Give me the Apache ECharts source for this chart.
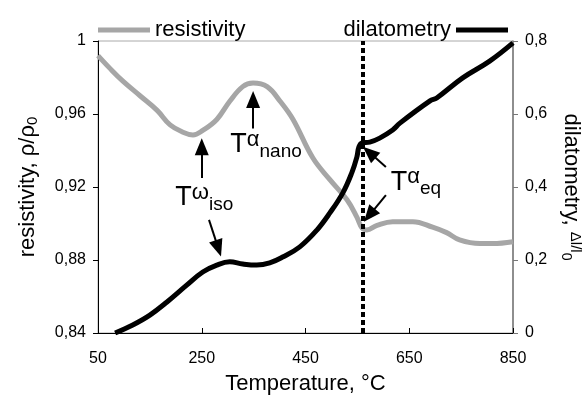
<!DOCTYPE html>
<html>
<head>
<meta charset="utf-8">
<script src="https://cdn.jsdelivr.net/npm/echarts@6/dist/echarts.min.js"></script>
<style>
  html, body { margin: 0; padding: 0; background: #fff; }
  #chart { width: 588px; height: 400px; }
</style>
</head>
<body>
<div id="chart"></div>
<script>
// resistivity (left axis)
const resT = [50, 73, 98, 131, 164, 189, 214, 233, 252, 279, 304, 329, 349, 376, 401, 426, 464, 497, 530, 549, 559, 568, 588, 618, 657, 695, 722, 747, 786, 811, 850]
const resV = [0.992, 0.985, 0.978, 0.970, 0.962, 0.954, 0.950, 0.9485, 0.951, 0.957, 0.967, 0.975, 0.977, 0.975, 0.967, 0.957, 0.936, 0.924, 0.913, 0.9035, 0.8975, 0.8965, 0.899, 0.901, 0.901, 0.898, 0.895, 0.891, 0.889, 0.889, 0.890]
// dilatometry (right axis)
const dilT = [83, 117, 150, 183, 221, 252, 279, 304, 329, 356, 381, 406, 439, 472, 497, 522, 539, 549, 553, 559, 574, 593, 618, 632, 690, 703, 753, 805, 850]
const dilV = [0, 0.022, 0.049, 0.085, 0.131, 0.167, 0.186, 0.195, 0.189, 0.186, 0.192, 0.208, 0.236, 0.282, 0.329, 0.384, 0.438, 0.482, 0.510, 0.521, 0.523, 0.534, 0.556, 0.575, 0.636, 0.644, 0.699, 0.745, 0.795]
// tick labels
const xTicks = [50, 250, 450, 650, 850]
const tEq = 560

const font = 'Arial, "Liberation Sans", sans-serif'
const comma = v => String(Math.round(v * 100) / 100).replace('.', ',')

// rich text styles for the T labels
const tRich = {
  t: { fontSize: 27, fontFamily: font, color: '#000', verticalAlign: 'middle', lineHeight: 32 },
  sup: { fontSize: 22, fontFamily: font, color: '#000', verticalAlign: 'top', lineHeight: 20 },
  sub: { fontSize: 19, fontFamily: font, color: '#000', verticalAlign: 'bottom', lineHeight: 17 }
}
function tLabel(coord, sup, sub) {
  return {
    coord: coord,
    symbol: 'circle',
    symbolSize: 1,
    itemStyle: { color: 'rgba(0,0,0,0)' },
    label: {
      show: true,
      position: 'inside',
      formatter: '{t|T}{sup|' + sup + '}{sub|' + sub + '}',
      rich: tRich
    }
  }
}
function arrow(from, to) {
  return [{ coord: from, symbol: 'none' }, { coord: to, symbol: 'triangle', symbolSize: [14, 17] }]
}

let chart = echarts.init(document.getElementById('chart'))
let option = {
  animation: false,
  textStyle: { fontFamily: font },
  grid: {
    left: 98, right: 75, top: 41, bottom: 67, outerBoundsMode: 'none',
    show: true, borderColor: '#aaa', borderWidth: 1
  },
  legend: [
    {
      data: ['resistivity'], left: 93, top: 14, icon: 'rect', itemWidth: 52, itemHeight: 5,
      textStyle: { fontSize: 22, color: '#000', fontFamily: font }
    },
    {
      data: ['dilatometry'], right: 75, top: 14, align: 'right', icon: 'rect', itemWidth: 52, itemHeight: 5,
      textStyle: { fontSize: 22, color: '#000', fontFamily: font }
    }
  ],
  xAxis: {
    type: 'value', min: 50, max: 850,
    name: 'Temperature, °C', nameLocation: 'middle', nameGap: 40,
    nameTextStyle: { fontSize: 22, color: '#000', fontFamily: font },
    axisLine: { lineStyle: { color: '#000', width: 1 } },
    axisTick: { inside: true, length: 5, customValues: xTicks, lineStyle: { color: '#000' } },
    axisLabel: { customValues: xTicks, fontSize: 16, color: '#000', margin: 18, fontFamily: font },
    splitLine: { show: false }
  },
  yAxis: [
    {
      type: 'value', min: 0.84, max: 1, interval: 0.04, position: 'left',
      name: '{a|resistivity, ρ/ρ}{s|0}', nameLocation: 'middle', nameGap: 58, nameRotate: 90,
      nameTextStyle: {
        rich: {
          a: { fontSize: 22, color: '#000', fontFamily: font, lineHeight: 24 },
          s: { fontSize: 15, color: '#000', fontFamily: font, verticalAlign: 'bottom', lineHeight: 12 }
        }
      },
      axisLine: { show: true, lineStyle: { color: '#000', width: 1 } },
      axisTick: { show: true, length: 5, lineStyle: { color: '#000' } },
      axisLabel: { formatter: comma, fontSize: 16, color: '#000', margin: 12, fontFamily: font },
      splitLine: { show: false }
    },
    {
      type: 'value', min: 0, max: 0.8, interval: 0.2, position: 'right',
      name: '{a|dilatometry, }{b|Δl/l}{s|0}', nameLocation: 'middle', nameGap: 46, nameRotate: -90,
      nameTextStyle: {
        rich: {
          a: { fontSize: 22, color: '#000', fontFamily: font, lineHeight: 24 },
          b: { fontSize: 15, color: '#000', fontFamily: font, verticalAlign: 'top', lineHeight: 18 },
          s: { fontSize: 14, color: '#000', fontFamily: font, verticalAlign: 'bottom', lineHeight: 11 }
        }
      },
      axisLine: { show: true, lineStyle: { color: '#777', width: 1.5 } },
      axisTick: { show: true, length: 5, lineStyle: { color: '#777' } },
      axisLabel: { formatter: comma, fontSize: 16, color: '#000', margin: 12, fontFamily: font },
      splitLine: { show: false }
    }
  ],
  series: [
    {
      name: 'resistivity', type: 'line', yAxisIndex: 0,
      data: resT.map((t, i) => [t, resV[i]]),
      showSymbol: false, smooth: 0.4, z: 2,
      itemStyle: { color: '#a6a6a6' },
      lineStyle: { color: '#a6a6a6', width: 5 },
      markLine: {
        silent: true, symbol: 'none', label: { show: false },
        data: [
          [{ coord: [tEq, 0.84], symbol: 'none', lineStyle: { color: '#000', width: 4, type: [5, 3] } },
           { coord: [tEq, 1], symbol: 'none' }],
          arrow([250, 0.925], [250, 0.942]),
          arrow([349, 0.952], [349, 0.968]),
          arrow([605, 0.9156], [573, 0.9045])
        ],
        lineStyle: { color: '#000', width: 2, type: 'solid' }
      },
      markPoint: {
        silent: true,
        data: [
          tLabel([255, 0.914], 'ω', 'iso'),
          tLabel([374, 0.943], 'α', 'nano'),
          tLabel([663, 0.9227], 'α', 'eq')
        ]
      }
    },
    {
      name: 'dilatometry', type: 'line', yAxisIndex: 1,
      data: dilT.map((t, i) => [t, dilV[i]]),
      showSymbol: false, smooth: 0.4, z: 3,
      itemStyle: { color: '#000' },
      lineStyle: { color: '#000', width: 5 },
      markLine: {
        silent: true, symbol: 'none', label: { show: false },
        lineStyle: { color: '#000', width: 2, type: 'solid' },
        data: [
          arrow([264, 0.31], [282, 0.232]),
          arrow([605, 0.455], [573, 0.495])
        ]
      }
    }
  ]
}
chart.setOption(option)
</script>
</body>
</html>
